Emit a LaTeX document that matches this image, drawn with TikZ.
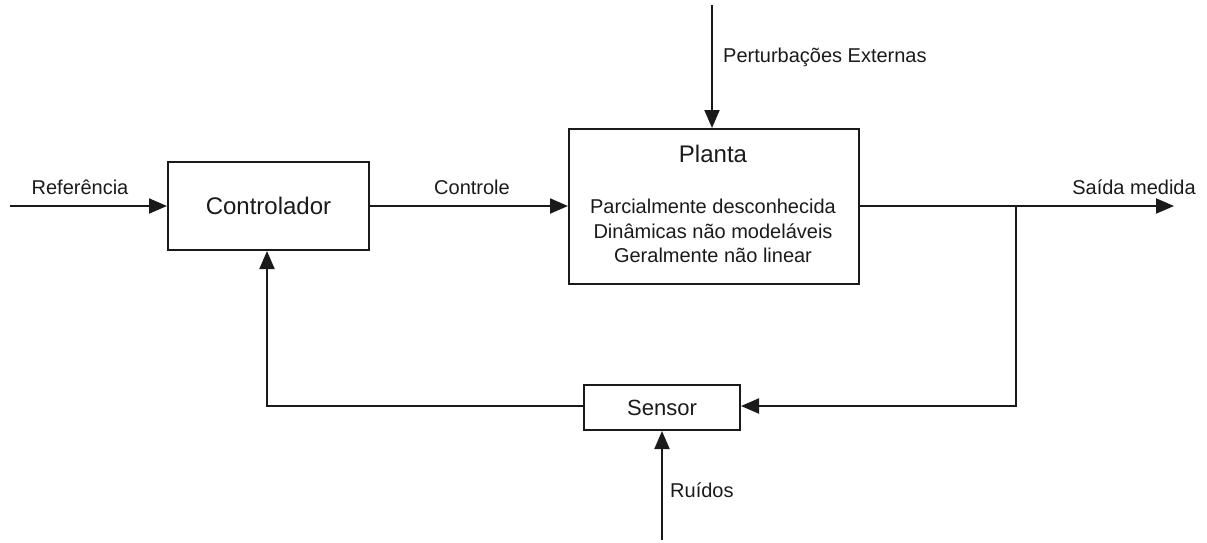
\documentclass[tikz,border=0pt]{standalone}
\usepackage{fontspec}
\setmainfont{Liberation Sans}
\usetikzlibrary{arrows.meta}
\definecolor{ink}{HTML}{1A1A1A}
\begin{document}
\begin{tikzpicture}[x=1pt,y=-1pt,
  blk/.style={draw=ink,line width=2pt,inner sep=0pt,anchor=north west},
  conn/.style={draw=ink,line width=2pt},
  arr/.style={conn,-{Triangle[length=18pt,width=15pt]}},
  lbl/.style={text=ink,font=\fontsize{20}{24}\selectfont,inner sep=0pt},
  ttl/.style={text=ink,font=\fontsize{24}{28}\selectfont,inner sep=0pt},
  body/.style={text=ink,font=\fontsize{20}{24.5}\selectfont,inner sep=0pt,align=center}]
\useasboundingbox (0,0) rectangle (1207,542);
% blocks
\node[blk,minimum width=201pt,minimum height=88pt] (ctrl) at (167,161) {};
\node[ttl] at (ctrl.center) {Controlador};
\node[blk,minimum width=290pt,minimum height=155pt] (plant) at (568,128) {};
\node[ttl] (ptitle) at (713,154) {Planta};
\node[body] (pbody) at (713,231) {Parcialmente desconhecida\\Dinâmicas não modeláveis\\Geralmente não linear};
\node[blk,minimum width=156pt,minimum height=45pt] (sens) at (583,384) {};
\node[ttl,font=\fontsize{22}{26}\selectfont] at (sens.center) {Sensor};
% coordinates
\coordinate (refin) at (10,206);
\coordinate (pertin) at (712,5);
\coordinate (out) at (1174,206);
\coordinate (branch) at (1016,206);
\coordinate (bdown) at (1016,406);
\coordinate (noise) at (662,540);
\coordinate (fbl) at (267,406);
% connectors
\draw[arr] (refin) -- (ctrl.west |- refin);
\draw[arr] (ctrl.east |- refin) -- (plant.west |- refin);
\draw[arr] (pertin) -- (pertin |- plant.north);
\draw[arr] (plant.east |- out) -- (out);
\draw[arr] (branch) -- (bdown) -- (sens.east |- bdown);
\draw[arr] (noise) -- (noise |- sens.south);
\draw[arr] (sens.west |- fbl) -- (fbl) -- (fbl |- ctrl.south);
% labels
\node[lbl] at (80,187) {Referência};
\node[lbl] at (472,187) {Controle};
\node[lbl,anchor=west] at (723,57) {Perturbações Externas};
\node[lbl] at (1134,187) {Saída medida};
\node[lbl,anchor=west] at (670,490) {Ruídos};
\end{tikzpicture}
\end{document}
